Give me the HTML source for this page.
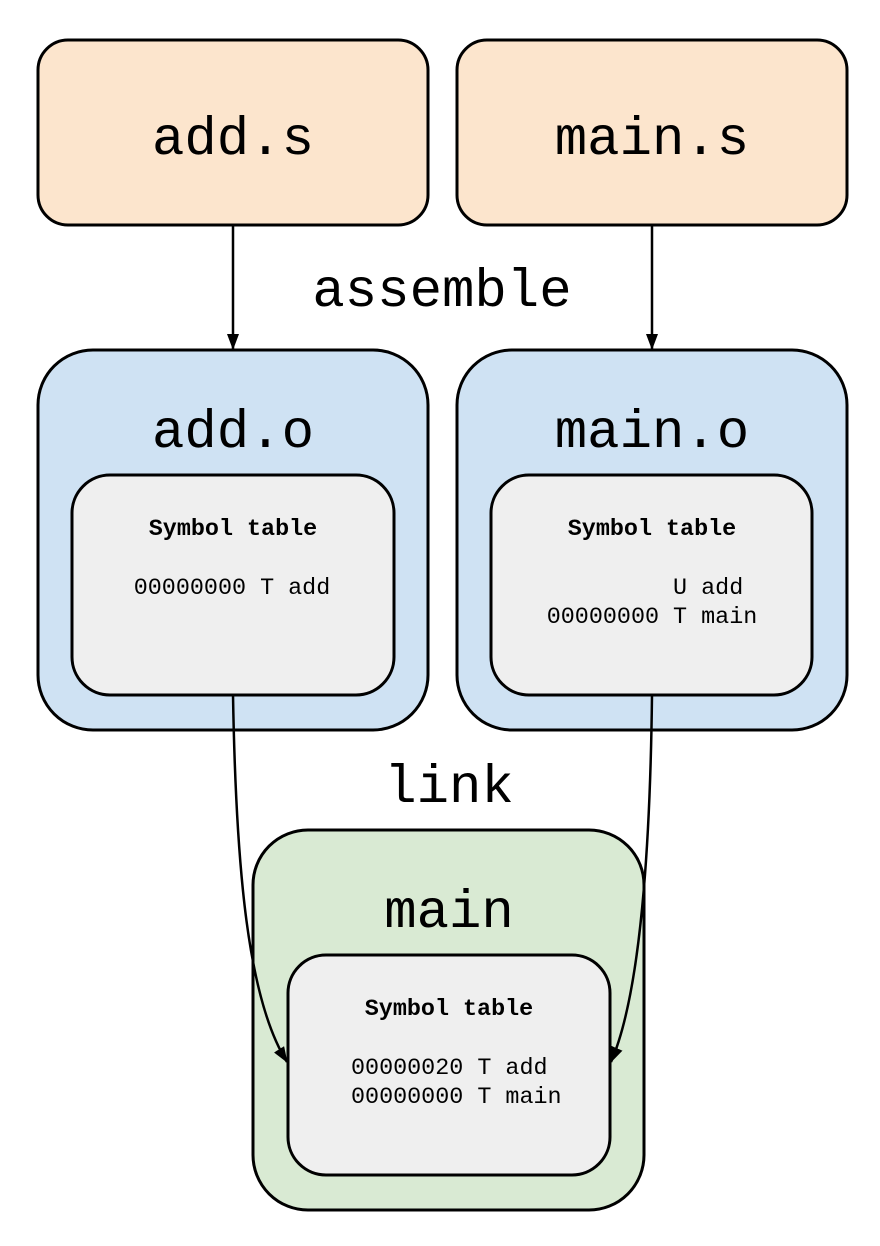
<!DOCTYPE html>
<html><head><meta charset="utf-8"><style>
html,body{margin:0;padding:0;background:#fff;}
svg{display:block;}
text{font-family:"Liberation Mono",monospace;fill:#000;}
</style></head><body>
<svg width="880" height="1246" viewBox="0 0 880 1246" xmlns="http://www.w3.org/2000/svg">
<defs>
<marker id="ah" markerWidth="16" markerHeight="12" refX="15" refY="6" orient="auto" markerUnits="userSpaceOnUse" viewBox="0 0 16 12">
<path d="M0,0 L16,6 L0,12 z" fill="#000"/>
</marker>
</defs>
<rect x="38" y="40" width="390" height="185" rx="30" fill="#fce5cd" stroke="#000" stroke-width="3"/>
<rect x="457" y="40" width="390" height="185" rx="30" fill="#fce5cd" stroke="#000" stroke-width="3"/>
<text x="233" y="154" font-size="54" text-anchor="middle">add.s</text>
<text x="652" y="154" font-size="54" text-anchor="middle">main.s</text>
<line x1="233" y1="225" x2="233" y2="349" stroke="#000" stroke-width="2.5" marker-end="url(#ah)"/>
<line x1="652" y1="225" x2="652" y2="349" stroke="#000" stroke-width="2.5" marker-end="url(#ah)"/>
<text x="442" y="306" font-size="54" text-anchor="middle">assemble</text>
<rect x="38" y="350" width="390" height="380" rx="55" fill="#cfe2f3" stroke="#000" stroke-width="3"/>
<rect x="457" y="350" width="390" height="380" rx="55" fill="#cfe2f3" stroke="#000" stroke-width="3"/>
<text x="233" y="447" font-size="54" text-anchor="middle">add.o</text>
<text x="652" y="447" font-size="54" text-anchor="middle">main.o</text>
<rect x="72" y="475" width="322" height="220" rx="38" fill="#efefef" stroke="#000" stroke-width="3"/>
<rect x="491" y="475" width="321" height="220" rx="38" fill="#efefef" stroke="#000" stroke-width="3"/>
<text x="233" y="535" font-size="23.4" font-weight="bold" text-anchor="middle">Symbol table</text>
<text x="652" y="535" font-size="23.4" font-weight="bold" text-anchor="middle">Symbol table</text>
<text x="232" y="594" font-size="23.4" text-anchor="middle">00000000 T add</text>
<text x="652" y="594" font-size="23.4" text-anchor="middle" xml:space="preserve">         U add </text>
<text x="652" y="623" font-size="23.4" text-anchor="middle">00000000 T main</text>
<text x="449" y="802" font-size="54" text-anchor="middle">link</text>
<rect x="253" y="830" width="391" height="380" rx="55" fill="#d9ead3" stroke="#000" stroke-width="3"/>
<text x="449" y="927" font-size="54" text-anchor="middle">main</text>
<rect x="288" y="955" width="322" height="220" rx="38" fill="#efefef" stroke="#000" stroke-width="3"/>
<text x="449" y="1015" font-size="23.4" font-weight="bold" text-anchor="middle">Symbol table</text>
<text x="351" y="1074" font-size="23.4">00000020 T add</text>
<text x="351" y="1103" font-size="23.4">00000000 T main</text>
<path d="M233,695 C236,870 248,1000 287,1062" fill="none" stroke="#000" stroke-width="2.5" marker-end="url(#ah)"/>
<path d="M652,695 C650,870 638,1000 611,1062" fill="none" stroke="#000" stroke-width="2.5" marker-end="url(#ah)"/>
</svg>
</body></html>
